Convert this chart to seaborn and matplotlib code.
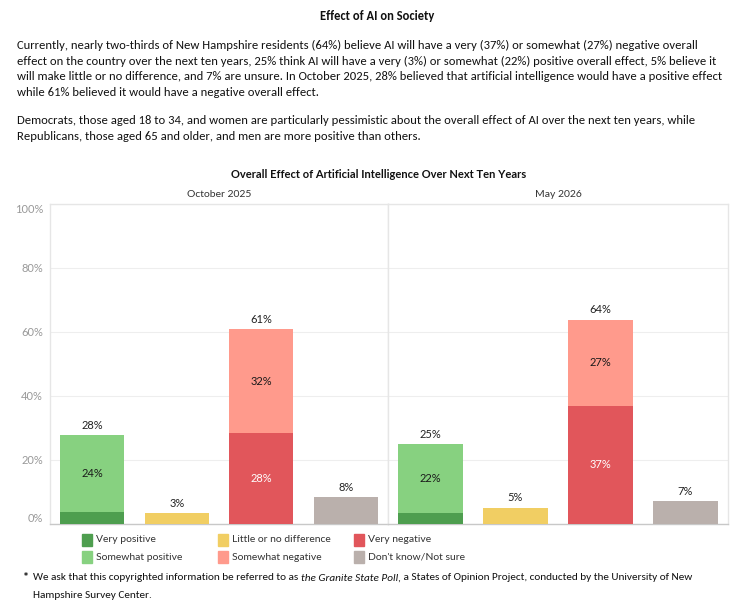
import matplotlib
matplotlib.use("Agg")
import matplotlib.pyplot as plt
import pandas as pd
import seaborn as sns

# data (percent)
categories = ["Positive", "Little or no difference", "Negative", "Don't know/Not sure"]
panels = ["October 2025", "May 2026"]
very_positive = [3.6, 3.4]
somewhat_positive = [24.2, 21.6]
little_difference = [3.4, 5.1]
very_negative = [28.4, 36.9]
somewhat_negative = [32.4, 26.9]
dont_know = [8.3, 7.2]

colors = {"Very positive": "#4E9E4F", "Somewhat positive": "#87D180",
          "Little or no difference": "#F1CE63", "Very negative": "#E1565B",
          "Somewhat negative": "#FF9A8C", "Don't know/Not sure": "#BAB0AC"}

sns.set_theme(style="white")
body_font = ["Carlito", "DejaVu Sans"]
chart_font = ["Lato", "DejaVu Sans"]
plt.rcParams["font.family"] = chart_font

W, H = 755, 611
fig = plt.figure(figsize=(W / 100, H / 100), dpi=100)


def fy(px):
    return 1 - px / H


def fx(px):
    return px / W


# header text
fig.text(fx(377), fy(16), "Effect of AI on Society", ha="center", va="center",
         fontsize=9, fontweight="bold", family=body_font, color="#111111")
para1 = ["Currently, nearly two-thirds of New Hampshire residents (64%) believe AI will have a very (37%) or somewhat (27%) negative overall",
         "effect on the country over the next ten years, 25% think AI will have a very (3%) or somewhat (22%) positive overall effect, 5% believe it",
         "will make little or no difference, and 7% are unsure. In October 2025, 28% believed that artificial intelligence would have a positive effect",
         "while 61% believed it would have a negative overall effect."]
para2 = ["Democrats, those aged 18 to 34, and women are particularly pessimistic about the overall effect of AI over the next ten years, while",
         "Republicans, those aged 65 and older, and men are more positive than others."]
for i, line in enumerate(para1):
    fig.text(fx(17), fy(45 + 16 * i), line, ha="left", va="center",
             fontsize=9.1, family=body_font, color="#111111")
for i, line in enumerate(para2):
    fig.text(fx(17), fy(121 + 16 * i), line, ha="left", va="center",
             fontsize=9.1, family=body_font, color="#111111")

fig.text(fx(379), fy(174), "Overall Effect of Artificial Intelligence Over Next Ten Years",
         ha="center", va="center", fontsize=8, fontweight="bold", color="#111111")

# axes
ax_left, ax_mid, ax_right = 50, 388, 728
ax_top, ax_bot = 204, 524
axes = [fig.add_axes([fx(ax_left), fy(ax_bot), fx(ax_mid - ax_left), (ax_bot - ax_top) / H]),
        fig.add_axes([fx(ax_mid), fy(ax_bot), fx(ax_right - ax_mid), (ax_bot - ax_top) / H])]

for p, ax in enumerate(axes):
    totals = [very_positive[p] + somewhat_positive[p], little_difference[p],
              very_negative[p] + somewhat_negative[p], dont_know[p]]
    bottoms = [very_positive[p], 0, very_negative[p], 0]
    top_df = pd.DataFrame({"cat": categories, "val": totals})
    bot_df = pd.DataFrame({"cat": categories, "val": bottoms})
    top_pal = dict(zip(categories, [colors["Somewhat positive"], colors["Little or no difference"],
                                    colors["Somewhat negative"], colors["Don't know/Not sure"]]))
    bot_pal = dict(zip(categories, [colors["Very positive"], colors["Little or no difference"],
                                    colors["Very negative"], colors["Don't know/Not sure"]]))
    sns.barplot(data=top_df, x="cat", y="val", hue="cat", palette=top_pal, width=0.76,
                saturation=1, legend=False, ax=ax, zorder=3, linewidth=0)
    sns.barplot(data=bot_df, x="cat", y="val", hue="cat", palette=bot_pal, width=0.76,
                saturation=1, legend=False, ax=ax, zorder=4, linewidth=0)

    # total labels above bars
    for i, t in enumerate(totals):
        ax.text(i, t + 3.1, f"{round(t)}%", ha="center", va="center", fontsize=8, color="#222222")
    # inner segment labels
    sp = somewhat_positive[p]
    ax.text(0, very_positive[p] + sp / 2, f"{round(sp)}%", ha="center", va="center",
            fontsize=8, color="#1a1a1a", zorder=5)
    sn = somewhat_negative[p]
    ax.text(2, very_negative[p] + sn / 2, f"{round(sn)}%", ha="center", va="center",
            fontsize=8, color="#1a1a1a", zorder=5)
    vn = very_negative[p]
    ax.text(2, vn / 2, f"{round(vn)}%", ha="center", va="center",
            fontsize=8, color="white", zorder=5)

    ax.set_ylim(0, 100)
    ax.set_xlim(-0.5, 3.5)
    ax.set_yticks([0, 20, 40, 60, 80, 100])
    ax.yaxis.grid(True, color="#EEEEEE", linewidth=0.8, zorder=0)
    ax.set_axisbelow(True)
    ax.set_xticks([])
    ax.set_xlabel("")
    ax.set_ylabel("")
    for side in ["top", "left", "right"]:
        ax.spines[side].set_visible(True)
        ax.spines[side].set_color("#E6E6E6")
        ax.spines[side].set_linewidth(1)
    ax.spines["bottom"].set_color("#C8C8C8")
    ax.spines["bottom"].set_linestyle((0, (1, 1)))
    ax.spines["bottom"].set_linewidth(1)
    ax.set_title(panels[p], fontsize=7.5, color="#333333", pad=5)

axes[0].set_yticklabels([f"{v}%" for v in [0, 20, 40, 60, 80, 100]])
axes[0].tick_params(axis="y", labelsize=8, labelcolor="#999999", length=0, pad=5)
labels = axes[0].get_yticklabels()
labels[0].set_va("bottom")
labels[-1].set_va("top")
axes[1].set_yticklabels([])
axes[1].tick_params(axis="y", length=0)

# legend
leg_cols = [["Very positive", "Somewhat positive"],
            ["Little or no difference", "Somewhat negative"],
            ["Very negative", "Don't know/Not sure"]]
col_x = [82, 218, 354]
row_y = [540, 557]
for c, names in enumerate(leg_cols):
    for r, name in enumerate(names):
        fig.patches.append(plt.Rectangle((fx(col_x[c]), fy(row_y[r] + 6)), fx(10), 12 / H,
                                         transform=fig.transFigure, color=colors[name]))
        fig.text(fx(col_x[c] + 14), fy(row_y[r]), name, ha="left", va="center",
                 fontsize=7.5, color="#333333")

# footnote with italic part
fig.text(fx(23), fy(578), "*", ha="left", va="center", fontsize=8.5,
         fontweight="bold", family=body_font, color="#111111")
fig.canvas.draw()
renderer = fig.canvas.get_renderer()
pieces = [("We ask that this copyrighted information be referred to as ", "normal"),
          ("the Granite State Poll,", "italic"),
          (" a States of Opinion Project, conducted by the University of New", "normal")]
x = fx(33)
for txt, style in pieces:
    t = fig.text(x, fy(578), txt, ha="left", va="center", fontsize=8.1,
                 style=style, family=body_font, color="#111111")
    bb = t.get_window_extent(renderer=renderer)
    x = bb.x1 / W
fig.text(fx(33), fy(595), "Hampshire Survey Center.", ha="left", va="center",
         fontsize=8.1, family=body_font, color="#111111")

fig.savefig("out.png", dpi=100)
